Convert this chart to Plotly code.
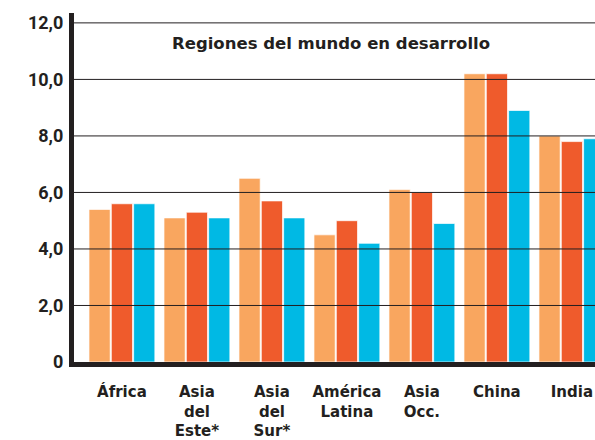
import plotly.graph_objects as go

categories = ["África", "Asia<br>del<br>Este*", "Asia<br>del<br>Sur*", "América<br>Latina",
              "Asia<br>Occ.", "China", "India"]
series_a = [5.4, 5.1, 6.5, 4.5, 6.1, 10.2, 8.0]
series_b = [5.6, 5.3, 5.7, 5.0, 6.0, 10.2, 7.8]
series_c = [5.6, 5.1, 5.1, 4.2, 4.9, 8.9, 7.9]
y_tickvals = [0, 2, 4, 6, 8, 10, 12]
y_ticktext = ["0", "2,0", "4,0", "6,0", "8,0", "10,0", "12,0"]
title_text = "Regiones del mundo en desarrollo"

colors = ["#F9A65F", "#EF5B2C", "#00B9E4"]
x_idx = list(range(len(categories)))

fig = go.Figure()
for vals, col in zip([series_a, series_b, series_c], colors):
    fig.add_trace(go.Bar(x=x_idx, y=vals, marker=dict(color=col,
                         line=dict(color="rgba(255,255,255,0.7)", width=1)),
                         showlegend=False))

for v in y_tickvals[1:]:
    fig.add_shape(type="line", xref="paper", yref="y", x0=0, x1=1, y0=v, y1=v,
                  line=dict(color="#231F20", width=1), layer="above")

fig.add_annotation(text="<b>" + title_text + "</b>", xref="paper", yref="paper",
                   x=0.494, y=0.912, xanchor="center", yanchor="middle",
                   showarrow=False, font=dict(family="DejaVu Sans", size=16.5, color="#231F20"))

fig.update_layout(
    width=595, height=440,
    margin=dict(l=74, r=0, t=13, b=78, autoexpand=False),
    paper_bgcolor="white", plot_bgcolor="white",
    barmode="group", bargap=0.107, bargroupgap=0.05,
)
fig.update_xaxes(range=[-0.639, 6.308], tickvals=x_idx, ticktext=categories,
                 showgrid=False, zeroline=False, showline=True, linecolor="#231F20",
                 linewidth=5, ticks="", tickangle=0, ticklabelstandoff=12,
                 tickfont=dict(family="DejaVu Sans", size=15, color="#231F20", weight="bold"))
fig.update_yaxes(range=[0, 12.35], tickvals=y_tickvals, ticktext=y_ticktext,
                 showgrid=False, zeroline=False, showline=True, linecolor="#231F20",
                 linewidth=5, ticks="", ticklabelstandoff=2,
                 tickfont=dict(family="Roboto", size=18, color="#231F20", weight="bold"))

fig.write_html("out.html", config={"displayModeBar": False},
               post_script="document.body.style.margin='0';document.body.style.overflow='hidden';")
